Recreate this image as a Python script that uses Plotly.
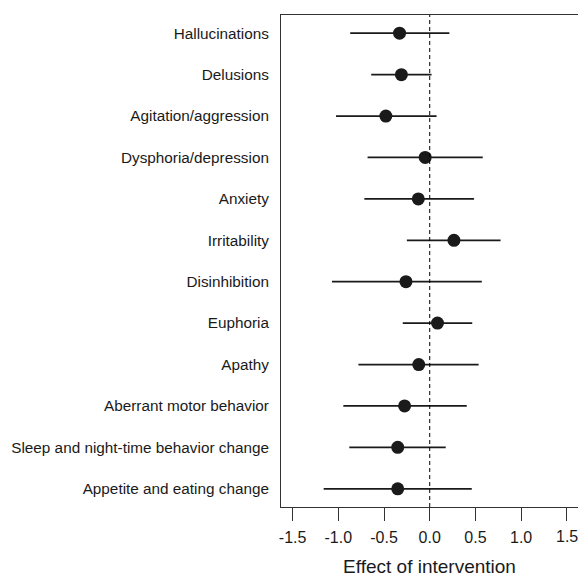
import plotly.graph_objects as go

symptoms = [
    "Hallucinations",
    "Delusions",
    "Agitation/aggression",
    "Dysphoria/depression",
    "Anxiety",
    "Irritability",
    "Disinhibition",
    "Euphoria",
    "Apathy",
    "Aberrant motor behavior",
    "Sleep and night-time behavior change",
    "Appetite and eating change",
]
effect = [-0.33, -0.31, -0.48, -0.05, -0.125, 0.265, -0.26, 0.085, -0.12, -0.275, -0.35, -0.35]
ci_low = [-0.87, -0.64, -1.025, -0.68, -0.715, -0.25, -1.07, -0.295, -0.78, -0.945, -0.88, -1.16]
ci_high = [0.215, 0.02, 0.075, 0.58, 0.485, 0.775, 0.57, 0.465, 0.535, 0.405, 0.175, 0.46]
x_ticks = [-1.5, -1.0, -0.5, 0.0, 0.5, 1.0, 1.5]

n = len(symptoms)
ypos = list(range(n, 0, -1))
err_plus = [h - e for h, e in zip(ci_high, effect)]
err_minus = [e - l for e, l in zip(effect, ci_low)]
tick_text = [f"{v:.1f}" for v in x_ticks]

fig = go.Figure()
fig.add_trace(go.Scatter(
    x=effect, y=ypos, mode="markers",
    marker=dict(size=13, color="#1a1a1a"),
    error_x=dict(type="data", symmetric=False, array=err_plus, arrayminus=err_minus,
                 color="#1a1a1a", thickness=1.8, width=0),
    showlegend=False, hoverinfo="skip",
))

fig.add_shape(type="line", x0=0, x1=0, y0=0, y1=1, xref="x", yref="paper",
              line=dict(color="black", width=1, dash="4px,3px"))

# the last tick label sits at the page edge; plotly would drop it, so add it as text
fig.add_annotation(x=x_ticks[-1], y=0, xref="x", yref="paper", text=tick_text[-1],
                   showarrow=False, yanchor="middle", yshift=-29,
                   font=dict(size=16, color="#1a1a1a"))

font = "Liberation Sans, Arial, sans-serif"
fig.update_layout(
    width=578, height=577,
    margin=dict(l=281, r=0, t=15, b=70),
    plot_bgcolor="white", paper_bgcolor="white",
    font=dict(family=font, color="#1a1a1a", size=15),
    xaxis=dict(
        range=[-1.627, 1.622], tickvals=x_ticks,
        ticktext=tick_text,
        ticks="outside", ticklen=13, tickwidth=1, tickcolor="#333",
        ticklabelstandoff=3,
        showline=True, linecolor="#333", linewidth=1, mirror=True,
        showgrid=False, zeroline=False,
        tickfont=dict(size=16),
        title=dict(text="Effect of intervention", font=dict(size=19), standoff=16),
    ),
    yaxis=dict(
        range=[0.56, 12.44], tickvals=ypos, ticktext=symptoms,
        ticks="outside", ticklen=8, tickcolor="rgba(0,0,0,0)",
        showline=True, linecolor="#333", linewidth=1, mirror=False,
        showgrid=False, zeroline=False,
        tickfont=dict(size=15.3),
    ),
)

fig.write_html("out.html", config={"displayModeBar": False},
               post_script="document.body.style.margin='0';document.body.style.overflow='hidden';")
